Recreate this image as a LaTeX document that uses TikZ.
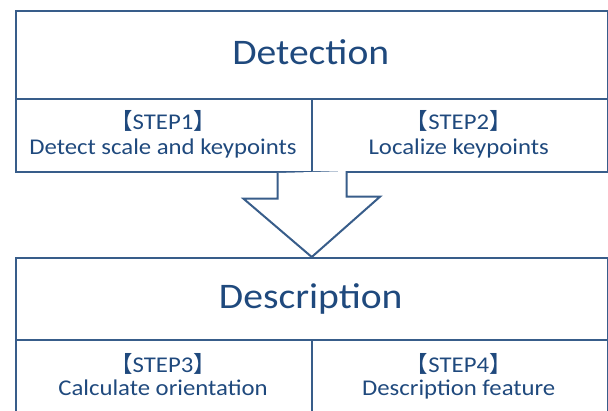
\documentclass[tikz,border=0pt]{standalone}
\usepackage{fontspec}
\setmainfont[FakeStretch=1.1]{Carlito}
\newfontfamily\cjkbr{Noto Sans CJK JP}
\definecolor{lineblue}{HTML}{385D8A}
\definecolor{textblue}{HTML}{1F497D}
\newcommand{\lb}{{\cjkbr 【}}
\newcommand{\rb}{{\cjkbr 】}}
\begin{document}
\begin{tikzpicture}[x=1pt,y=-1pt,
  cell/.style={draw=lineblue,line width=2pt,rectangle,inner sep=0pt,anchor=north west},
  titletext/.style={text=textblue,font=\fontsize{36}{40}\selectfont,anchor=base,inner sep=0pt},
  steptext/.style={text=textblue,font=\fontsize{22.5}{25}\selectfont,anchor=base,inner sep=0pt},
  arrowshape/.style={draw=lineblue,line width=2pt,line join=miter,fill=white}]
\useasboundingbox (0,0) rectangle (608,410);
\clip (0,0) rectangle (608,410);
% top block
\node[cell,minimum width=591.5pt,minimum height=88pt] (det) at (15,10) {};
\node[cell,minimum width=296pt,minimum height=73pt] (s1) at (15,98) {};
\node[cell,minimum width=295.5pt,minimum height=73pt] (s2) at (311,98) {};
% bottom block
\node[cell,minimum width=591.5pt,minimum height=82pt] (desc) at (15,257) {};
\node[cell,minimum width=296pt,minimum height=76pt] (s3) at (15,339) {};
\node[cell,minimum width=295.5pt,minimum height=76pt] (s4) at (311,339) {};
% arrow from top block to bottom block
\draw[arrowshape] ([xshift=-33.5pt]s2.south west) -- ++(0,25.7) -- ++(-34,0)
  -- (desc.north) -- ++(68.25,-60.3) -- ++(-33.5,0) -- ++(0,-25.7);
% texts
\node[titletext] (tdet) at (310.75,64) {Detection};
\node[titletext] (tdesc) at (310.75,308) {Description};
\node[steptext] (t1a) at (163,129.3) {\lb STEP1\rb};
\node[steptext] (t1b) at (163,154) {Detect scale and keypoints};
\node[steptext] (t2a) at (458.75,129.3) {\lb STEP2\rb};
\node[steptext] (t2b) at (458.75,154) {Localize keypoints};
\node[steptext] (t3a) at (163,372) {\lb STEP3\rb};
\node[steptext] (t3b) at (163,395) {Calculate orientation};
\node[steptext] (t4a) at (458.75,372) {\lb STEP4\rb};
\node[steptext] (t4b) at (458.75,395) {Description feature};
\end{tikzpicture}
\end{document}
